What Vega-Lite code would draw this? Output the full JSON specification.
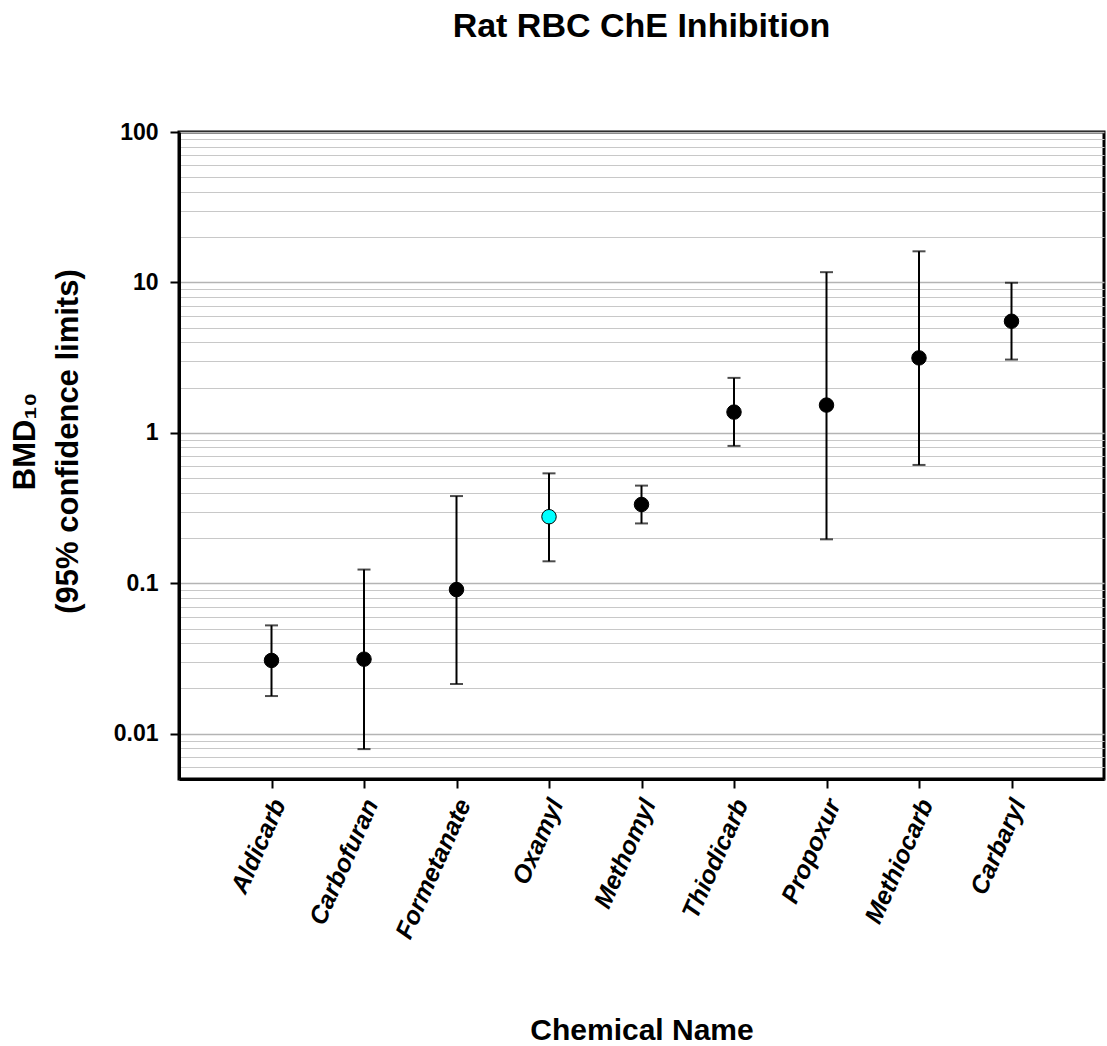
{
  "$schema": "https://vega.github.io/schema/vega-lite/v6.json",
  "autosize": {"type": "none"},
  "padding": {"left": 179, "top": 132, "right": 3, "bottom": 267},
  "width": 925,
  "height": 647,
  "background": "white",
  "title": {
    "text": "Rat RBC ChE Inhibition",
    "font": "Liberation Sans",
    "fontSize": 34,
    "fontWeight": "bold",
    "color": "black",
    "anchor": "middle",
    "frame": "group",
    "offset": 77
  },
  "config": {
    "view": {"stroke": "black", "strokeWidth": 3},
    "axis": {
      "labelFont": "Liberation Sans",
      "titleFont": "Liberation Sans",
      "labelColor": "black",
      "titleColor": "black",
      "domainColor": "black",
      "tickColor": "black"
    }
  },
  "data": {
    "values": [
      {"chemical": "Aldicarb", "bmd": 0.0307, "lower": 0.0178, "upper": 0.0525, "highlight": "no"},
      {"chemical": "Carbofuran", "bmd": 0.0313, "lower": 0.0079, "upper": 0.1234, "highlight": "no"},
      {"chemical": "Formetanate", "bmd": 0.0908, "lower": 0.0214, "upper": 0.38, "highlight": "no"},
      {"chemical": "Oxamyl", "bmd": 0.277, "lower": 0.140, "upper": 0.538, "highlight": "yes"},
      {"chemical": "Methomyl", "bmd": 0.334, "lower": 0.25, "upper": 0.446, "highlight": "no"},
      {"chemical": "Thiodicarb", "bmd": 1.374, "lower": 0.819, "upper": 2.32, "highlight": "no"},
      {"chemical": "Propoxur", "bmd": 1.53, "lower": 0.196, "upper": 11.7, "highlight": "no"},
      {"chemical": "Methiocarb", "bmd": 3.15, "lower": 0.612, "upper": 16.1, "highlight": "no"},
      {"chemical": "Carbaryl", "bmd": 5.52, "lower": 3.07, "upper": 9.95, "highlight": "no"}
    ]
  },
  "encoding": {
    "x": {
      "field": "chemical",
      "type": "nominal",
      "sort": null,
      "scale": {"type": "point", "padding": 1},
      "axis": {
        "title": "Chemical Name",
        "titleFontSize": 30,
        "titleFontWeight": "bold",
        "titleBaseline": "alphabetic",
        "titleY": 260,
        "labelFontSize": 25,
        "labelFontWeight": "bold",
        "labelFontStyle": "italic",
        "labelAngle": -66,
        "labelAlign": "right",
        "labelBaseline": "middle",
        "labelPadding": 12,
        "labelOffset": 7,
        "tickSize": 9,
        "tickWidth": 2,
        "domainWidth": 3,
        "grid": false
      }
    }
  },
  "layer": [
    {
      "mark": {"type": "rule", "color": "black", "strokeWidth": 2},
      "encoding": {
        "y": {
          "field": "lower",
          "type": "quantitative",
          "scale": {"type": "log", "domain": [0.005, 100], "nice": false},
          "axis": {
            "title": ["BMD₁₀", "(95% confidence limits)"],
            "titleFontSize": 31,
            "titleFontWeight": "bold",
            "titleAngle": -90,
            "titleAlign": "center",
            "titleBaseline": "alphabetic",
            "titleLineHeight": 43,
            "titleX": -145,
            "titleY": 309,
            "values": [0.005, 0.006, 0.007, 0.008, 0.009,
                       0.01, 0.02, 0.03, 0.04, 0.05, 0.06, 0.07, 0.08, 0.09,
                       0.1, 0.2, 0.3, 0.4, 0.5, 0.6, 0.7, 0.8, 0.9,
                       1, 2, 3, 4, 5, 6, 7, 8, 9,
                       10, 20, 30, 40, 50, 60, 70, 80, 90, 100],
            "labelExpr": "abs(log(datum.value) / LN10 - round(log(datum.value) / LN10)) < 1e-6 ? format(datum.value, '~g') : ''",
            "labelFontSize": 23,
            "labelFontWeight": "bold",
            "labelPadding": 12,
            "tickSize": 9,
            "tickWidth": 2,
            "tickOpacity": {
              "condition": {"test": "abs(log(datum.value) / LN10 - round(log(datum.value) / LN10)) < 1e-6", "value": 1},
              "value": 0
            },
            "domainWidth": 3,
            "grid": true,
            "gridColor": {
              "condition": {"test": "abs(log(datum.value) / LN10 - round(log(datum.value) / LN10)) < 1e-6", "value": "#b4b4b4"},
              "value": "#c8c8c8"
            },
            "gridWidth": {
              "condition": {"test": "abs(log(datum.value) / LN10 - round(log(datum.value) / LN10)) < 1e-6", "value": 1.6},
              "value": 1.2
            }
          }
        },
        "y2": {"field": "upper"}
      }
    },
    {
      "mark": {"type": "tick", "color": "black", "size": 13, "thickness": 2},
      "encoding": {"y": {"field": "lower", "type": "quantitative"}}
    },
    {
      "mark": {"type": "tick", "color": "black", "size": 13, "thickness": 2},
      "encoding": {"y": {"field": "upper", "type": "quantitative"}}
    },
    {
      "mark": {"type": "circle", "size": 210, "opacity": 1, "stroke": "black", "strokeWidth": 1},
      "encoding": {
        "y": {"field": "bmd", "type": "quantitative"},
        "color": {
          "field": "highlight",
          "type": "nominal",
          "scale": {"domain": ["no", "yes"], "range": ["black", "cyan"]},
          "legend": null
        }
      }
    }
  ]
}
